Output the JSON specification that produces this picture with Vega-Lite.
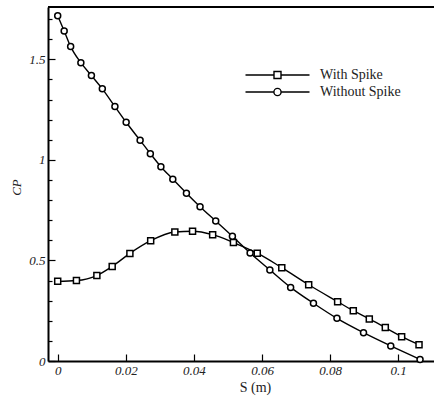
{
  "$schema": "https://vega.github.io/schema/vega-lite/v6.json",
  "width": 386,
  "height": 354,
  "autosize": {"type": "none"},
  "padding": {"left": 48, "top": 7, "right": 0, "bottom": 35},
  "background": "white",
  "config": {
    "view": {"stroke": null},
    "font": "Liberation Serif",
    "axis": {
      "domainColor": "black",
      "domainWidth": 2,
      "tickColor": "black",
      "tickWidth": 1.2,
      "labelFont": "Liberation Serif",
      "labelFontStyle": "italic",
      "labelFontSize": 13,
      "labelColor": "#222",
      "titleFont": "Liberation Serif",
      "titleFontWeight": "normal",
      "titleColor": "#222",
      "grid": false
    }
  },
  "data": {
    "values": [
      {"series": "Without Spike", "s": 0.0000, "cp": 1.717},
      {"series": "Without Spike", "s": 0.0019, "cp": 1.641},
      {"series": "Without Spike", "s": 0.0038, "cp": 1.563},
      {"series": "Without Spike", "s": 0.0068, "cp": 1.483},
      {"series": "Without Spike", "s": 0.0099, "cp": 1.419},
      {"series": "Without Spike", "s": 0.0131, "cp": 1.353},
      {"series": "Without Spike", "s": 0.0168, "cp": 1.265},
      {"series": "Without Spike", "s": 0.0201, "cp": 1.187},
      {"series": "Without Spike", "s": 0.0242, "cp": 1.097},
      {"series": "Without Spike", "s": 0.0272, "cp": 1.031},
      {"series": "Without Spike", "s": 0.0303, "cp": 0.966},
      {"series": "Without Spike", "s": 0.0338, "cp": 0.904},
      {"series": "Without Spike", "s": 0.0378, "cp": 0.834},
      {"series": "Without Spike", "s": 0.0418, "cp": 0.767},
      {"series": "Without Spike", "s": 0.0464, "cp": 0.696},
      {"series": "Without Spike", "s": 0.0513, "cp": 0.620},
      {"series": "Without Spike", "s": 0.0565, "cp": 0.537},
      {"series": "Without Spike", "s": 0.0623, "cp": 0.453},
      {"series": "Without Spike", "s": 0.0684, "cp": 0.366},
      {"series": "Without Spike", "s": 0.0751, "cp": 0.287},
      {"series": "Without Spike", "s": 0.0820, "cp": 0.212},
      {"series": "Without Spike", "s": 0.0898, "cp": 0.141},
      {"series": "Without Spike", "s": 0.0978, "cp": 0.075},
      {"series": "Without Spike", "s": 0.1064, "cp": 0.008},
      {"series": "With Spike", "s": 0.0000, "cp": 0.396},
      {"series": "With Spike", "s": 0.0055, "cp": 0.400},
      {"series": "With Spike", "s": 0.0115, "cp": 0.425},
      {"series": "With Spike", "s": 0.0160, "cp": 0.470},
      {"series": "With Spike", "s": 0.0212, "cp": 0.535},
      {"series": "With Spike", "s": 0.0273, "cp": 0.598},
      {"series": "With Spike", "s": 0.0344, "cp": 0.641},
      {"series": "With Spike", "s": 0.0396, "cp": 0.645},
      {"series": "With Spike", "s": 0.0455, "cp": 0.628},
      {"series": "With Spike", "s": 0.0516, "cp": 0.589},
      {"series": "With Spike", "s": 0.0586, "cp": 0.536},
      {"series": "With Spike", "s": 0.0658, "cp": 0.464},
      {"series": "With Spike", "s": 0.0737, "cp": 0.379},
      {"series": "With Spike", "s": 0.0822, "cp": 0.295},
      {"series": "With Spike", "s": 0.0868, "cp": 0.250},
      {"series": "With Spike", "s": 0.0915, "cp": 0.209},
      {"series": "With Spike", "s": 0.0962, "cp": 0.166},
      {"series": "With Spike", "s": 0.1010, "cp": 0.121},
      {"series": "With Spike", "s": 0.1061, "cp": 0.081}
    ]
  },
  "layer": [
    {
      "mark": {"type": "rule", "color": "black", "strokeWidth": 2},
      "encoding": {
        "y": {
          "datum": 1.76, "type": "quantitative",
          "axis": {
            "orient": "left",
            "values": [0.1, 0.2, 0.3, 0.4, 0.6, 0.7, 0.8, 0.9, 1.1, 1.2, 1.3, 1.4, 1.6, 1.7],
            "labels": false,
            "domain": false,
            "ticks": true,
            "tickSize": -4,
            "title": null
          }
        }
      }
    },
    {
      "mark": {"type": "line", "strokeWidth": 1.4, "interpolate": "monotone"},
      "encoding": {
        "x": {
          "field": "s", "type": "quantitative",
          "scale": {"domain": [-0.00285, 0.1105], "nice": false, "zero": false},
          "axis": {
            "orient": "bottom",
            "values": [0, 0.005, 0.01, 0.015, 0.02, 0.025, 0.03, 0.035, 0.04, 0.045, 0.05, 0.055, 0.06, 0.065, 0.07, 0.075, 0.08, 0.085, 0.09, 0.095, 0.1, 0.105, 0.11],
            "labelExpr": "abs(datum.value/0.02 - round(datum.value/0.02)) < 1e-6 ? format(datum.value, '.2~f') : ''",
            "tickSize": {"condition": {"test": "abs(datum.value/0.02 - round(datum.value/0.02)) < 1e-6", "value": -7}, "value": -4},
            "labelPadding": 10,
            "labelFlush": false,
            "labelOverlap": false,
            "title": "S (m)",
            "titleFontSize": 14,
            "titleFontStyle": "normal",
            "titleX": 207,
            "titleY": 30.5,
            "titleBaseline": "alphabetic"
          }
        },
        "y": {
          "field": "cp", "type": "quantitative",
          "scale": {"domain": [0, 1.76], "nice": false},
          "axis": {
            "orient": "left",
            "values": [0, 0.5, 1, 1.5],
            "format": "~g",
            "tickSize": -7,
            "labelPadding": 10,
            "labelFlush": false,
            "labelOverlap": false,
            "title": "CP",
            "titleFontSize": 13,
            "titleFontStyle": "italic",
            "titleX": -28,
            "titleY": 180,
            "titleBaseline": "alphabetic"
          }
        },
        "color": {
          "field": "series", "type": "nominal",
          "scale": {"domain": ["With Spike", "Without Spike"], "range": ["black", "black"]},
          "legend": {
            "orient": "none",
            "legendX": 222.5,
            "legendY": 61,
            "padding": 0,
            "title": null,
            "symbolSize": 64,
            "symbolStrokeWidth": 1.4,
            "symbolFillColor": "white",
            "symbolStrokeColor": "black",
            "symbolType": {"expr": "datum.value === 'With Spike' ? 'M-8,0H-0.875M0.875,0H8M-0.875,-0.875H0.875V0.875H-0.875Z' : 'M-8,0H-0.9M0.9,0H8M-0.9,0A0.9,0.9,0,1,1,0.9,0A0.9,0.9,0,1,1,-0.9,0Z'"},
            "labelOffset": 35.5,
            "rowPadding": 3,
            "labelFont": "Liberation Serif",
            "labelFontSize": 14,
            "labelColor": "#222"
          }
        }
      }
    },
    {
      "transform": [{"filter": "datum.series === 'With Spike'"}],
      "mark": {"type": "point", "shape": "square", "filled": true, "fill": "white", "stroke": "black", "strokeWidth": 1.5, "size": 36, "opacity": 1},
      "encoding": {
        "x": {"field": "s", "type": "quantitative"},
        "y": {"field": "cp", "type": "quantitative", "axis": null}
      }
    },
    {
      "transform": [{"filter": "datum.series === 'Without Spike'"}],
      "mark": {"type": "point", "shape": "circle", "filled": true, "fill": "white", "stroke": "black", "strokeWidth": 1.5, "size": 36, "opacity": 1},
      "encoding": {
        "x": {"field": "s", "type": "quantitative"},
        "y": {"field": "cp", "type": "quantitative", "axis": null}
      }
    }
  ],
  "resolve": {"axis": {"y": "independent"}}
}
